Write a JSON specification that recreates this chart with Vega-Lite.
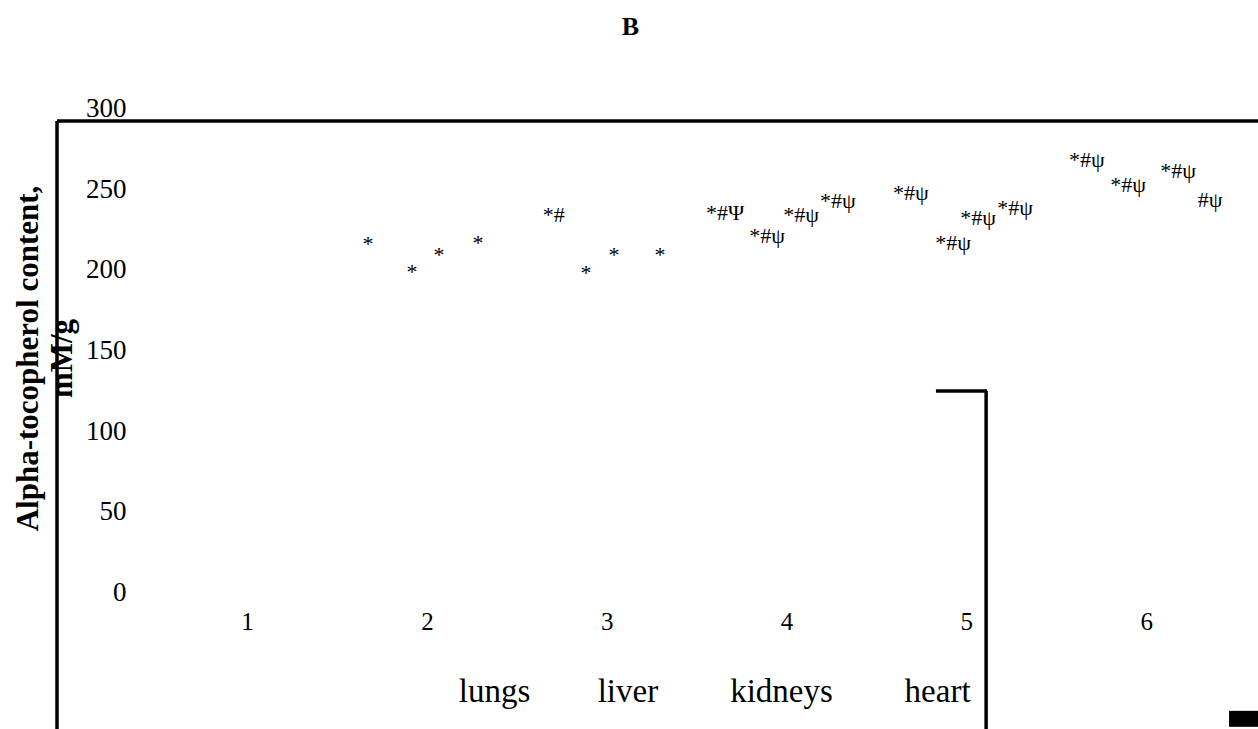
{
  "$schema": "https://vega.github.io/schema/vega-lite/v6.json",
  "width": 1201,
  "height": 484,
  "autosize": "none",
  "padding": {"left": 57, "top": 121, "right": 0, "bottom": 124},
  "background": "white",
  "config": {"view": {"stroke": null}, "font": "Liberation Serif"},
  "title": {"text": "B", "font": "Liberation Serif", "fontSize": 26, "fontWeight": "bold", "color": "black", "anchor": "middle", "frame": "group", "dx": -27, "baseline": "alphabetic", "offset": 34},
  "datasets": {
    "marks": [
      {"group": 2, "bar": 1, "pos": 1.672, "value": 219.3, "label": "*"},
      {"group": 2, "bar": 2, "pos": 1.917, "value": 201.9, "label": "*"},
      {"group": 2, "bar": 3, "pos": 2.067, "value": 212.5, "label": "*"},
      {"group": 2, "bar": 4, "pos": 2.284, "value": 219.9, "label": "*"},
      {"group": 3, "bar": 1, "pos": 2.706, "value": 237.6, "label": "*#"},
      {"group": 3, "bar": 2, "pos": 2.885, "value": 201.7, "label": "*"},
      {"group": 3, "bar": 3, "pos": 3.041, "value": 212.6, "label": "*"},
      {"group": 3, "bar": 4, "pos": 3.296, "value": 212.6, "label": "*"},
      {"group": 4, "bar": 1, "pos": 3.658, "value": 238.7, "label": "*#Ψ"},
      {"group": 4, "bar": 2, "pos": 3.892, "value": 224.4, "label": "*#ψ"},
      {"group": 4, "bar": 3, "pos": 4.081, "value": 237.4, "label": "*#ψ"},
      {"group": 4, "bar": 4, "pos": 4.286, "value": 246.1, "label": "*#ψ"},
      {"group": 5, "bar": 1, "pos": 4.692, "value": 251.1, "label": "*#ψ"},
      {"group": 5, "bar": 2, "pos": 4.926, "value": 220.1, "label": "*#ψ"},
      {"group": 5, "bar": 3, "pos": 5.065, "value": 235.6, "label": "*#ψ"},
      {"group": 5, "bar": 4, "pos": 5.271, "value": 241.8, "label": "*#ψ"},
      {"group": 6, "bar": 1, "pos": 5.671, "value": 271.5, "label": "*#ψ"},
      {"group": 6, "bar": 2, "pos": 5.900, "value": 256.0, "label": "*#ψ"},
      {"group": 6, "bar": 3, "pos": 6.178, "value": 264.7, "label": "*#ψ"},
      {"group": 6, "bar": 4, "pos": 6.356, "value": 246.7, "label": "#ψ"}
    ],
    "organs": [
      {"organ": "lungs", "pos": 2.376, "value": -60},
      {"organ": "liver", "pos": 3.118, "value": -60},
      {"organ": "kidneys", "pos": 3.972, "value": -60},
      {"organ": "heart", "pos": 4.840, "value": -60}
    ],
    "one": [{}]
  },
  "layer": [
    {
      "data": {"name": "marks"},
      "mark": {"type": "text", "align": "center", "baseline": "alphabetic", "fontSize": 22, "font": "Liberation Serif", "color": "black"},
      "encoding": {
        "x": {"field": "pos", "type": "quantitative",
          "scale": {"domain": [-0.057, 6.622], "nice": false, "zero": false},
          "axis": {"title": null, "values": [1, 2, 3, 4, 5, 6], "format": "d", "grid": false, "domain": false, "ticks": false, "tickSize": 0,
            "labelPadding": 24, "labelBaseline": "alphabetic", "labelAlign": "center", "labelFontSize": 25, "labelFont": "Liberation Serif", "labelColor": "black", "labelFlush": false, "labelOverlap": false}},
        "y": {"field": "value", "type": "quantitative",
          "scale": {"domain": [0, 300], "nice": false, "zero": false},
          "axis": {"title": ["Alpha-tocopherol content,", "mM/g"], "values": [0, 50, 100, 150, 200, 250, 300], "grid": false, "domain": false, "ticks": false, "tickSize": 0,
            "labelAlign": "right", "labelPadding": -69, "labelOffset": -12.5, "labelBaseline": "middle", "labelFontSize": 27, "labelFont": "Liberation Serif", "labelColor": "black", "labelFlush": false, "labelOverlap": false,
            "titleFont": "Liberation Serif", "titleFontSize": 31, "titleFontWeight": "bold", "titleColor": "black", "titleAngle": -90, "titleAlign": "center", "titleBaseline": "alphabetic", "titleX": -20, "titleY": 237, "titleLineHeight": 34}},
        "text": {"field": "label", "type": "nominal"}
      }
    },
    {
      "data": {"name": "organs"},
      "mark": {"type": "text", "align": "center", "baseline": "alphabetic", "fontSize": 33, "font": "Liberation Serif", "color": "black"},
      "encoding": {
        "x": {"field": "pos", "type": "quantitative"},
        "y": {"field": "value", "type": "quantitative"},
        "text": {"field": "organ", "type": "nominal"}
      }
    },
    {
      "data": {"name": "one"},
      "mark": {"type": "rule", "strokeWidth": 3.5, "color": "black"},
      "encoding": {"x": {"datum": -0.057}, "x2": {"datum": 6.622}, "y": {"datum": 300}}
    },
    {
      "data": {"name": "one"},
      "mark": {"type": "rule", "strokeWidth": 3.5, "color": "black"},
      "encoding": {"x": {"datum": -0.057}, "y": {"datum": 300}, "y2": {"datum": -77}}
    },
    {
      "data": {"name": "one"},
      "mark": {"type": "rule", "strokeWidth": 3.5, "color": "black"},
      "encoding": {"x": {"datum": 4.831}, "x2": {"datum": 5.115}, "y": {"datum": 132.7}}
    },
    {
      "data": {"name": "one"},
      "mark": {"type": "rule", "strokeWidth": 3.5, "color": "black"},
      "encoding": {"x": {"datum": 5.110}, "y": {"datum": 132.7}, "y2": {"datum": -77}}
    },
    {
      "data": {"name": "one"},
      "mark": {"type": "rect", "color": "black"},
      "encoding": {"x": {"datum": 6.461}, "x2": {"datum": 6.622}, "y": {"datum": -65.6}, "y2": {"datum": -75.5}}
    }
  ]
}
